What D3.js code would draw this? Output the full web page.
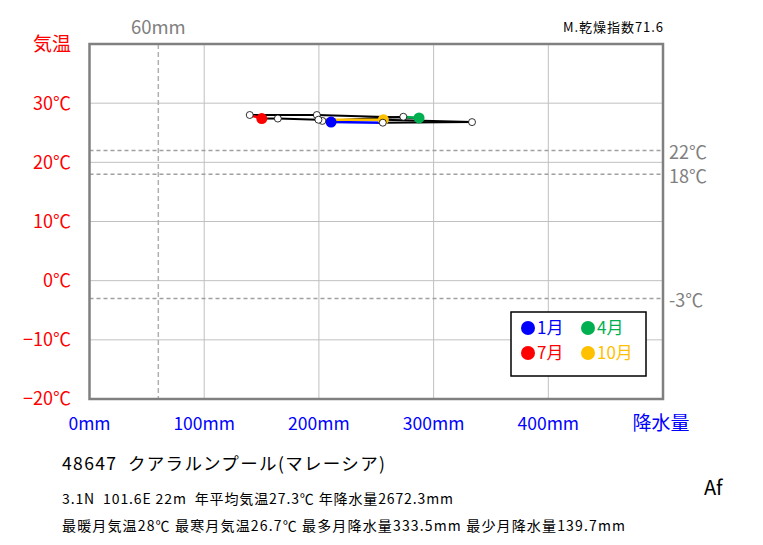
<!DOCTYPE html>
<html><head><meta charset="utf-8">
<script src="https://cdn.jsdelivr.net/npm/d3@7"></script>
<style>body{margin:0;background:#fff}svg{display:block}text{font-family:"Noto Sans CJK JP","Noto Sans",sans-serif}</style>
</head><body><svg id="c" width="763" height="545"></svg>
<script>
const months = ["1月","2月","3月","4月","5月","6月","7月","8月","9月","10月","11月","12月"];
const precip = [210.6,203.0,273.6,287.3,198.2,139.7,150.2,164.2,199.6,256.2,333.5,255.7];
const temp   = [26.8,27.0,27.7,27.5,28.0,28.0,27.4,27.4,27.2,27.2,26.8,26.7];
const highlight = {0:"#0000ff",3:"#00b050",6:"#ff0000",9:"#ffc000"};
const yTicks = [-20,-10,0,10,20,30];
const xTicks = [0,100,200,300,400];
const refTemps = [22,18,-3];
const dryLine = 60;

const svg = d3.select("#c");
const x = d3.scaleLinear().domain([0,500]).range([89.5,663]);
const y = d3.scaleLinear().domain([-20,40]).range([399,44]);

// grid
svg.append("g").selectAll("line").data([100,200,300,400]).join("line")
  .attr("x1",d=>x(d)).attr("x2",d=>x(d)).attr("y1",y(40)).attr("y2",y(-20))
  .attr("stroke","#c0c0c0").attr("stroke-width",1);
svg.append("g").selectAll("line").data([-10,0,10,20,30]).join("line")
  .attr("x1",x(0)).attr("x2",x(500)).attr("y1",d=>y(d)).attr("y2",d=>y(d))
  .attr("stroke","#c0c0c0").attr("stroke-width",1);

// dashed reference
svg.append("g").selectAll("line").data(refTemps).join("line")
  .attr("x1",x(0)).attr("x2",x(500)).attr("y1",d=>y(d)).attr("y2",d=>y(d))
  .attr("stroke","#a0a0a0").attr("stroke-width",1.5).attr("stroke-dasharray","4,3");
svg.append("line").attr("x1",x(dryLine)).attr("x2",x(dryLine)).attr("y1",y(40)).attr("y2",y(-20))
  .attr("stroke","#b0b0b0").attr("stroke-width",1.5).attr("stroke-dasharray","5,3");

// frame
svg.append("rect").attr("x",x(0)).attr("y",y(40)).attr("width",x(500)-x(0)).attr("height",y(-20)-y(40))
  .attr("fill","none").attr("stroke","#808080").attr("stroke-width",2.5);

// y labels
svg.append("g").selectAll("text").data(yTicks).join("text")
  .attr("x",71).attr("y",d=>y(d)).attr("dy","0.36em").attr("text-anchor","end")
  .attr("fill","#ff0000").attr("font-size",18).text(d=>(d<0?"\u2212"+(-d):d)+"℃");
svg.append("text").attr("x",71).attr("y",y(40)).attr("dy","0.36em").attr("text-anchor","end")
  .attr("fill","#ff0000").attr("font-size",19).text("気温");
// x labels
svg.append("g").selectAll("text").data(xTicks).join("text")
  .attr("x",d=>x(d)).attr("y",424).attr("dy","0.36em").attr("text-anchor","middle")
  .attr("fill","#0000ff").attr("font-size",17.5).text(d=>d+"mm");
svg.append("text").attr("x",661).attr("y",423).attr("dy","0.36em").attr("text-anchor","middle")
  .attr("fill","#0000ff").attr("font-size",19).text("降水量");
// right labels
svg.append("g").selectAll("text").data(refTemps).join("text")
  .attr("x",669).attr("y",d=>y(d)+2).attr("dy","0.36em")
  .attr("fill","#808080").attr("font-size",18).text(d=>d+"℃");
svg.append("text").attr("x",x(dryLine)).attr("y",27).attr("dy","0.36em").attr("text-anchor","middle")
  .attr("fill","#808080").attr("font-size",18.5).text(dryLine+"mm");
svg.append("text").attr("x",563).attr("y",27).attr("dy","0.36em")
  .attr("textLength",100).attr("lengthAdjust","spacing")
  .attr("fill","#000").attr("font-size",13).text("M.乾燥指数71.6");

// lines
const pts = months.map((m,i)=>({i,p:precip[i],t:temp[i]}));
const segs = pts.map((d,i)=>({a:pts[(i+11)%12],b:d}));
svg.append("g").selectAll("line").data(segs.filter(s=>highlight[s.b.i]===undefined)).join("line")
  .attr("x1",s=>x(s.a.p)).attr("y1",s=>y(s.a.t)).attr("x2",s=>x(s.b.p)).attr("y2",s=>y(s.b.t))
  .attr("stroke","#000").attr("stroke-width",2);
svg.append("g").selectAll("line").data(segs.filter(s=>highlight[s.b.i]!==undefined)).join("line")
  .attr("x1",s=>x(s.a.p)).attr("y1",s=>y(s.a.t)).attr("x2",s=>x(s.b.p)).attr("y2",s=>y(s.b.t))
  .attr("stroke",s=>highlight[s.b.i]).attr("stroke-width",2.5);
// points
svg.append("g").selectAll("circle").data(pts.filter(d=>highlight[d.i]!==undefined)).join("circle")
  .attr("cx",d=>x(d.p)).attr("cy",d=>y(d.t)).attr("r",5.5).attr("fill",d=>highlight[d.i]);
svg.append("g").selectAll("circle").data(pts.filter(d=>highlight[d.i]===undefined)).join("circle")
  .attr("cx",d=>x(d.p)).attr("cy",d=>y(d.t)).attr("r",3.5).attr("fill","#fff").attr("stroke","#000").attr("stroke-width",0.8);

// legend
const lg = svg.append("g");
lg.append("rect").attr("x",511).attr("y",312).attr("width",135).attr("height",64)
  .attr("fill","#fff").attr("stroke","#000").attr("stroke-width",1.5);
const legItems = [0,3,6,9];
legItems.forEach((mi,k)=>{
  const cx = 528 + (k%2)*60, cy = 328 + Math.floor(k/2)*25;
  lg.append("circle").attr("cx",cx).attr("cy",cy).attr("r",7).attr("fill",highlight[mi]);
  lg.append("text").attr("x",cx+9).attr("y",cy).attr("dy","0.36em").attr("fill",highlight[mi])
    .attr("font-size",17).text(months[mi]);
});

// info text
svg.append("text").attr("x",62).attr("y",464).attr("dy","0.36em").attr("font-size",17.5).attr("fill","#000")
  .attr("textLength",323).attr("lengthAdjust","spacing")
  .attr("xml:space","preserve").text("48647  クアラルンプール(マレーシア)");
svg.append("text").attr("x",62).attr("y",499).attr("dy","0.36em").attr("font-size",14).attr("fill","#000")
  .attr("textLength",391).attr("lengthAdjust","spacing")
  .attr("xml:space","preserve").text("3.1N  101.6E 22m  年平均気温27.3℃ 年降水量2672.3mm");
svg.append("text").attr("x",62).attr("y",526).attr("dy","0.36em").attr("font-size",14).attr("fill","#000")
  .attr("textLength",563).attr("lengthAdjust","spacing")
  .text("最暖月気温28℃ 最寒月気温26.7℃ 最多月降水量333.5mm 最少月降水量139.7mm");
svg.append("text").attr("x",704).attr("y",488).attr("dy","0.36em").attr("font-size",20).attr("fill","#000").text("Af");
</script></body></html>
